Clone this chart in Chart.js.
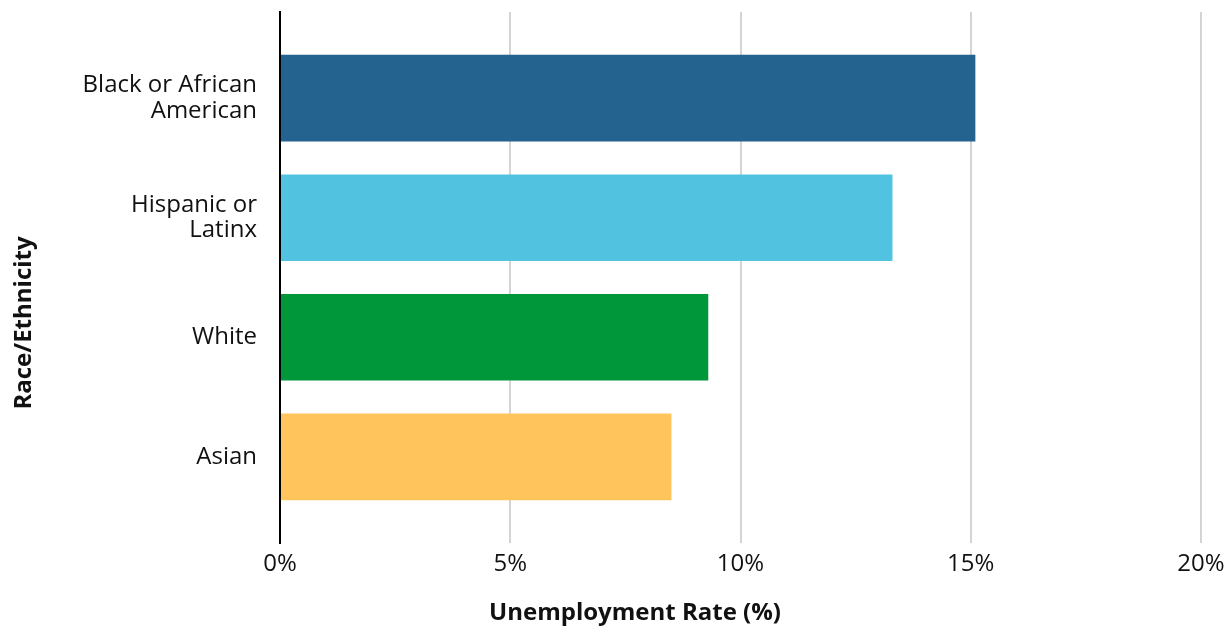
<!DOCTYPE html>
<html>
<head>
<meta charset="utf-8">
<script src="https://cdn.jsdelivr.net/npm/chart.js@4/dist/chart.umd.min.js"></script>
<style>
  html, body { margin: 0; padding: 0; background: #fff; }
  #wrap { width: 1232px; height: 629px; position: relative; }
</style>
</head>
<body>
<div id="wrap"><canvas id="c" width="1232" height="629"></canvas></div>
<script>
const categories = [["Black or African", "American"], ["Hispanic or", "Latinx"], "White", "Asian"];
const rates = [15.1, 13.3, 9.3, 8.5];
const barColors = ["#24628F", "#51C2DF", "#00963A", "#FFC55C"];
const xTicks = [0, 5, 10, 15, 20];
const xTitle = "Unemployment Rate (%)";
const yTitle = "Race/Ethnicity";

const FONT = "'Open Sans', 'Noto Sans', sans-serif";

// Axis titles, placed where the reference puts them (not centred on the plot area)
const axisTitles = {
  id: 'axisTitles',
  afterDraw(chart) {
    const ctx = chart.ctx;
    ctx.save();
    ctx.fillStyle = '#111';
    ctx.font = "bold 24px " + FONT;
    ctx.textAlign = 'center';
    ctx.textBaseline = 'middle';
    ctx.fillText(xTitle, 635, 613);
    ctx.translate(24, 323);
    ctx.rotate(-Math.PI / 2);
    ctx.fillText(yTitle, 0, 0);
    ctx.restore();
  }
};

new Chart(document.getElementById('c'), {
  type: 'bar',
  data: {
    datasets: [{
      data: rates.map((v, i) => ({ x: v, y: i })),
      backgroundColor: barColors,
      borderWidth: 0,
      barPercentage: 0.724,
      categoryPercentage: 1
    }]
  },
  plugins: [axisTitles],
  options: {
    indexAxis: 'y',
    responsive: false,
    animation: false,
    layout: { padding: { top: 12, right: 31, left: 0, bottom: 0 } },
    plugins: { legend: { display: false }, tooltip: { enabled: false } },
    scales: {
      x: {
        type: 'linear',
        position: 'bottom',
        min: 0,
        max: 20,
        afterBuildTicks: (s) => { s.ticks = xTicks.map(v => ({ value: v })); },
        afterFit: (s) => { s.height = 86; s.paddingLeft = 0; s.paddingRight = 0; },
        ticks: {
          callback: (v) => v + '%',
          color: '#111',
          font: { family: FONT, size: 24 },
          padding: 7,
          maxRotation: 0
        },
        grid: {
          display: true,
          drawTicks: false,
          color: (ctx) => ctx.tick && ctx.tick.value === 0 ? 'rgba(0,0,0,0)' : '#d4d4d4',
          lineWidth: 2
        },
        border: { display: false },
        title: { display: false }
      },
      y: {
        type: 'linear',
        reverse: true,
        offset: false,
        min: -0.72,
        max: 3.72,
        afterBuildTicks: (s) => { s.ticks = categories.map((_, i) => ({ value: i })); },
        afterFit: (s) => { s.width = 280; s.paddingTop = 0; s.paddingBottom = 0; },
        ticks: {
          callback: (v) => categories[v],
          color: '#111',
          font: { family: FONT, size: 24, lineHeight: 1.05 },
          padding: 23
        },
        grid: { display: false, drawTicks: false, offset: false },
        border: { display: true, color: '#000', width: 2 },
        title: { display: false }
      }
    }
  }
});
</script>
</body>
</html>
